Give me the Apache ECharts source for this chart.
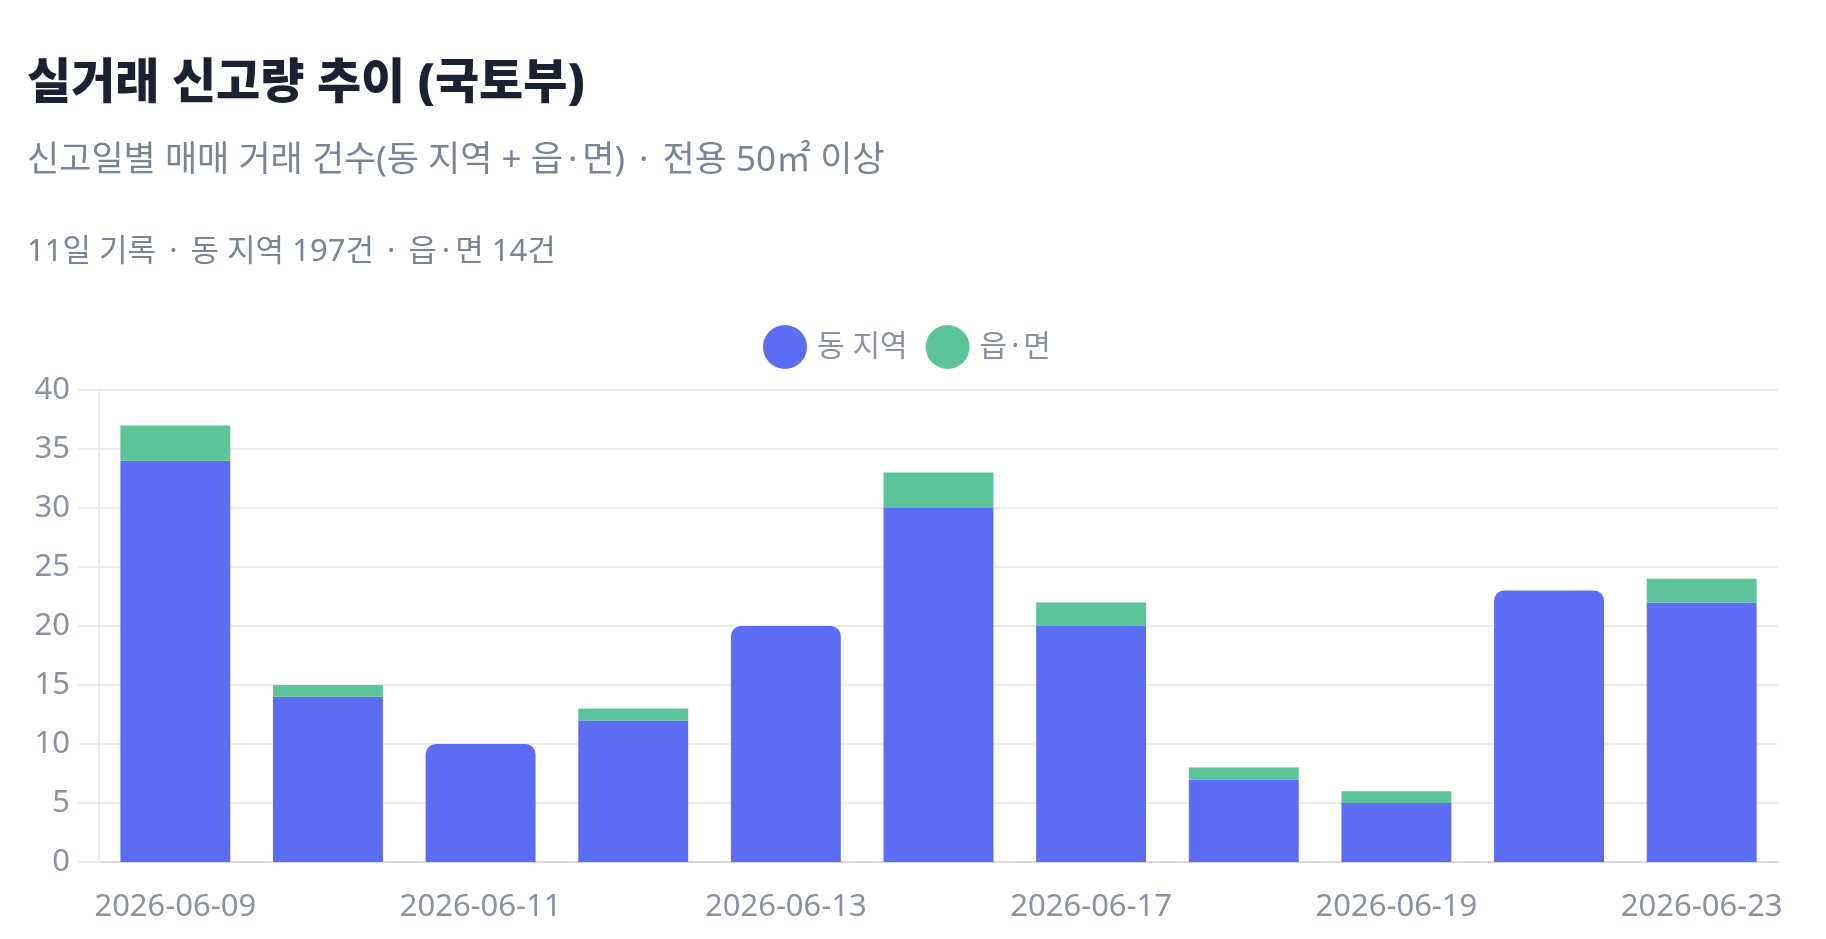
<!DOCTYPE html>
<html><head><meta charset="utf-8">
<script src="https://cdn.jsdelivr.net/npm/echarts@6/dist/echarts.min.js"></script>
<style>html,body{margin:0;padding:0;background:#fff}#c{width:1826px;height:939px}</style>
</head><body><div id="c"></div>
<script>
const titleText = '실거래 신고량 추이 (국토부)';
const subtitleText = '신고일별 매매 거래 건수(동 지역 + 읍·면) · 전용 50㎡ 이상';
const summaryText = '11일 기록 · 동 지역 197건 · 읍·면 14건';
const categories = ['2026-06-09','2026-06-10','2026-06-11','2026-06-12','2026-06-13','2026-06-16','2026-06-17','2026-06-18','2026-06-19','2026-06-22','2026-06-23'];
const seriesNames = ['동 지역','읍·면'];
const dongValues = [34,14,10,12,20,30,20,7,5,23,22];
const eupValues  = [3,1,0,1,0,3,2,1,1,0,2];
const yTicks = {min:0,max:40,interval:5};

const FONT = "'Noto Sans','Noto Sans CJK KR',sans-serif";
const BLUE = '#5d6cf5', GREEN = '#5cc49b';
const LABEL = '#8b91a3';
const SUB = '#7b8396';

// wrap middle dots so they can get the wider spacing seen in the reference
const dots = s => s.split('·').join('{d|·}');
const dotStyle = (size,color,pad) => ({d:{fontFamily:FONT,fontSize:size,color:color,padding:[0,pad,0,pad]}});

const dongData = dongValues.map((v,i)=>({value:v,itemStyle:{borderRadius: eupValues[i]===0?[10,10,0,0]:0}}));

const chart = echarts.init(document.getElementById('c'));
chart.setOption({
  backgroundColor:'#fff',
  animation:false,
  textStyle:{fontFamily:FONT},
  title:[
    {text:titleText,left:27,top:56,padding:0,textStyle:{fontFamily:FONT,fontSize:48,fontWeight:900,color:'#1b2033',lineHeight:56}},
    {text:dots(subtitleText),left:27,top:141,padding:0,textStyle:{fontFamily:FONT,fontSize:35,fontWeight:'normal',color:SUB,lineHeight:41,rich:dotStyle(35,SUB,5)}},
    {text:dots(summaryText),left:27,top:232,padding:0,textStyle:{fontFamily:FONT,fontSize:31,fontWeight:'normal',color:SUB,lineHeight:40,rich:dotStyle(31,SUB,5)}}
  ],
  legend:{
    data:seriesNames,
    left:763, top:325, padding:0,
    icon:'circle', itemWidth:44, itemHeight:44, itemGap:18,
    formatter: name => dots(name),
    textStyle:{fontFamily:FONT,fontSize:30,color:LABEL,padding:[0,0,0,5],rich:dotStyle(30,LABEL,4)}
  },
  grid:{left:99,right:48,top:390,bottom:77,containLabel:false},
  xAxis:{
    type:'category',data:categories,
    axisLine:{lineStyle:{color:'#d6d9df',width:2}},
    axisTick:{show:false},
    axisLabel:{interval:1,color:LABEL,fontSize:31,fontFamily:FONT,margin:30}
  },
  yAxis:{
    type:'value',min:yTicks.min,max:yTicks.max,interval:yTicks.interval,
    axisLine:{show:true,lineStyle:{color:'#e3e5ea',width:1.5}},
    axisTick:{show:true,length:21,lineStyle:{color:'#eceef2',width:2}},
    splitLine:{lineStyle:{color:'#eceef2',width:2}},
    axisLabel:{color:LABEL,fontSize:31,fontFamily:FONT,margin:29}
  },
  series:[
    {name:seriesNames[0],type:'bar',stack:'t',barWidth:'72%',data:dongData,itemStyle:{color:BLUE}},
    {name:seriesNames[1],type:'bar',stack:'t',barWidth:'72%',data:eupValues,itemStyle:{color:GREEN}}
  ]
});
</script></body></html>
